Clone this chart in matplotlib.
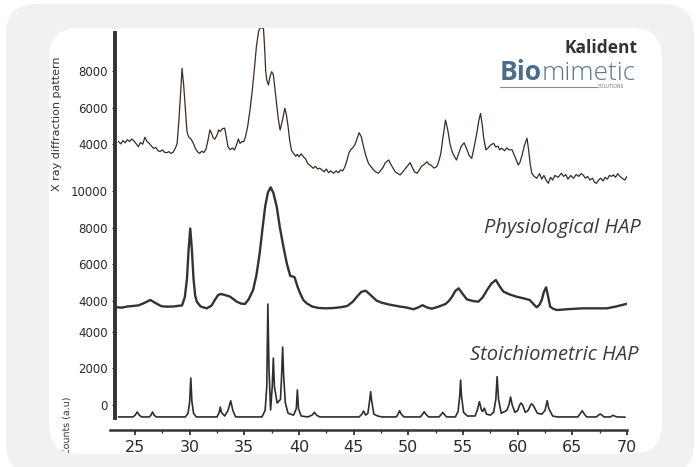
import numpy as np
import matplotlib.pyplot as plt
from matplotlib.patches import FancyBboxPatch, PathPatch
from matplotlib.textpath import TextPath
from matplotlib.font_manager import FontProperties
from matplotlib.transforms import Affine2D
from matplotlib.ticker import MultipleLocator

# --- data (2-theta in degrees, counts) ---
# top trace: Kalident sample (noisy)
kal_x = [23.5, 23.7, 23.9, 24.1, 24.3, 24.5, 24.7, 24.9, 25.1, 25.3, 25.5, 25.7, 25.9, 26.1,
         26.3, 26.5, 26.7, 26.9, 27.1, 27.3, 27.5, 27.7, 27.9, 28.1, 28.3, 28.5, 28.7, 28.85,
         29.0, 29.15, 29.3, 29.45, 29.6, 29.75, 29.9, 30.1, 30.3, 30.5, 30.7, 30.9, 31.1, 31.3,
         31.5, 31.7, 31.85, 32.0, 32.15, 32.3, 32.5, 32.65, 32.8, 33.0, 33.2, 33.35, 33.5, 33.7,
         33.9, 34.1, 34.3, 34.45, 34.6, 34.8, 34.95, 35.1, 35.3, 35.5, 35.7, 35.9, 36.1, 36.3,
         36.45, 36.6, 36.75, 36.85, 36.95, 37.05, 37.2, 37.35, 37.5, 37.65, 37.8, 37.95, 38.1,
         38.27, 38.4, 38.55, 38.7, 38.85, 39.0, 39.15, 39.3, 39.5, 39.7, 39.85, 40.0, 40.2, 40.4,
         40.6, 40.8, 41.0, 41.3, 41.5, 41.7, 41.9, 42.1, 42.3, 42.5, 42.7, 42.9, 43.15, 43.4,
         43.6, 43.8, 44.0, 44.2, 44.4, 44.55, 44.7, 44.9, 45.1, 45.3, 45.5, 45.7, 45.9, 46.1,
         46.35, 46.55, 46.75, 47.0, 47.26, 47.5, 47.7, 47.85, 48.0, 48.2, 48.4, 48.6, 48.8, 49.0,
         49.25, 49.5, 49.7, 49.9, 50.16, 50.35, 50.55, 50.8, 51.0, 51.2, 51.45, 51.7, 51.9, 52.1,
         52.35, 52.6, 52.8, 52.97, 53.15, 53.4, 53.6, 53.8, 54.0, 54.2, 54.4, 54.6, 54.85, 55.1,
         55.3, 55.55, 55.8, 56.0, 56.26, 56.45, 56.6, 56.75, 56.9, 57.1, 57.3, 57.5, 57.8, 58.0,
         58.2, 58.35, 58.55, 58.8, 59.0, 59.2, 59.5, 59.7, 59.9, 60.05, 60.2, 60.4, 60.6, 60.85,
         61.0, 61.15, 61.3, 61.5, 61.75, 62.0, 62.2, 62.4, 62.6, 62.8, 63.0, 63.2, 63.4, 63.7,
         64.0, 64.2, 64.4, 64.6, 64.85, 65.1, 65.35, 65.6, 65.8, 66.0, 66.2, 66.4, 66.6, 66.85,
         67.0, 67.2, 67.4, 67.6, 67.8, 68.0, 68.2, 68.4, 68.6, 68.76, 68.95, 69.15, 69.35, 69.55,
         69.8, 70.0]
kal_y = [4140, 4020, 4200, 4080, 4250, 4150, 4290, 4180, 4020, 3870, 4100, 4000, 4380, 4150,
         4050, 3900, 3780, 3820, 3650, 3600, 3700, 3560, 3540, 3600, 3500, 3580, 3800, 4050,
         5200, 6600, 8140, 7200, 5960, 4700, 4400, 4300, 4100, 3800, 3600, 3500, 3620, 3550,
         3750, 4300, 4780, 4600, 4350, 4280, 4500, 4780, 4700, 4850, 4880, 4400, 3870, 3700,
         3800, 3690, 4000, 4290, 4050, 4150, 4140, 4400, 4960, 5800, 6800, 8000, 9320, 10150,
         10350, 10350, 10300, 9300, 8000, 7500, 7230, 7700, 7955, 7800, 7000, 6230, 5400,
         4780, 5100, 5500, 5960, 5600, 4960, 4200, 3690, 3500, 3350, 3450, 3320, 3480, 3320,
         3200, 2950, 2850, 2690, 2800, 2650, 2700, 2600, 2500, 2650, 2450, 2550, 2420, 2550,
         2450, 2600, 2550, 2780, 3150, 3500, 3690, 3800, 3960, 4300, 4630, 4400, 3870, 3400,
         2960, 2800, 2650, 2500, 2420, 2600, 2750, 2950, 3050, 3140, 2900, 2700, 2500, 2420,
         2330, 2500, 2650, 2800, 3000, 2750, 2500, 2420, 2600, 2800, 2900, 3050, 2900, 2850,
         2700, 2780, 3100, 3500, 4300, 5320, 4800, 4050, 3600, 3350, 3140, 3500, 3900, 4080,
         3800, 3400, 3230, 3800, 4600, 5300, 5680, 5100, 4300, 3690, 3800, 3950, 4050, 3850,
         3900, 3700, 3780, 3650, 3800, 3700, 3690, 3400, 3100, 2870, 3000, 3400, 3900, 4330,
         3700, 2900, 2420, 2250, 2150, 2400, 2100, 2300, 2050, 1870, 2200, 2050, 2300, 2200,
         2420, 2250, 2350, 2100, 2300, 2150, 2350, 2250, 2400, 2320, 2150, 2250, 2050, 2150,
         1950, 1870, 2050, 2150, 2000, 2200, 2100, 2300, 2250, 2330, 2200, 2400, 2250, 2150,
         2050, 2250]

# middle trace: physiological HAP
phys_x = [23.3, 23.8, 24.3, 24.8, 25.3, 25.8, 26.4, 26.9, 27.4, 27.9, 28.5, 29.0, 29.3, 29.55,
          29.75, 29.9, 30.05, 30.2, 30.35, 30.5, 30.65, 31.0, 31.55, 32.0, 32.3, 32.6, 32.85,
          33.2, 33.7, 34.0, 34.3, 34.7, 35.06, 35.4, 35.8, 36.1, 36.4, 36.65, 36.9, 37.15, 37.4,
          37.65, 37.96, 38.25, 38.57, 38.9, 39.2, 39.45, 39.6, 39.85, 40.1, 40.4, 40.7, 41.2,
          41.8, 42.5, 43.2, 43.8, 44.4, 44.9, 45.3, 45.7, 46.1, 46.5, 47.1, 47.6, 48.3, 49.2,
          49.8, 50.46, 50.9, 51.3, 51.7, 52.15, 52.8, 53.4, 53.7, 54.0, 54.3, 54.6, 54.95, 55.35,
          55.9, 56.4, 56.8, 57.2, 57.6, 58.0, 58.35, 58.7, 59.3, 59.9, 60.5, 61.1, 61.5, 61.75,
          62.0, 62.2, 62.4, 62.6, 62.8, 62.97, 63.3, 63.6, 64.5, 65.3, 66.0, 67.0, 68.15, 69.0,
          69.9]
phys_y = [3657, 3640, 3700, 3728, 3760, 3880, 4054, 3880, 3720, 3690, 3700, 3740, 3760, 4200,
          5200, 6800, 7950, 6800, 5200, 4300, 3962, 3700, 3600, 3750, 4054, 4330, 4381,
          4330, 4236, 4100, 3962, 3860, 3837, 4100, 4600, 5400, 6600, 7900, 9140, 9900, 10197,
          9900, 9140, 8000, 6960, 6000, 5363, 5330, 5290, 4800, 4420, 4050, 3874, 3700,
          3620, 3600, 3620, 3660, 3728, 3950, 4236, 4500, 4560, 4350, 4017, 3900, 3800, 3700,
          3650, 3550, 3650, 3770, 3650, 3580, 3700, 3837, 4000, 4236, 4550, 4690, 4400, 4092,
          4000, 3962, 4200, 4600, 4950, 5145, 4800, 4510, 4350, 4236, 4150, 4054, 3800, 3657,
          3800, 4054, 4500, 4747, 4200, 3690, 3560, 3509, 3550, 3580, 3600, 3600, 3600, 3700,
          3837]

# bottom trace: stoichiometric HAP
stoi_x = [23.5, 24.8, 25.0, 25.2, 25.4, 25.6, 26.3, 26.45, 26.6, 26.75, 26.95, 29.6, 29.85,
          30.0, 30.1, 30.2, 30.35, 30.6, 32.5, 32.7, 32.8, 32.9, 33.2, 33.5, 33.75, 33.95, 34.2,
          36.6, 36.9, 37.05, 37.15, 37.25, 37.4, 37.55, 37.65, 37.75, 38.0, 38.3, 38.4, 38.5,
          38.6, 38.75, 39.0, 39.5, 39.75, 39.85, 39.95, 40.2, 40.8, 41.2, 41.4, 41.6, 41.9,
          45.5, 45.75, 45.9, 46.1, 46.3, 46.45, 46.55, 46.65, 46.85, 47.2, 47.6, 48.9, 49.05,
          49.2, 49.35, 49.6, 51.1, 51.3, 51.45, 51.6, 51.85, 52.8, 53.0, 53.15, 53.3, 53.5,
          54.3, 54.55, 54.7, 54.78, 54.86, 55.05, 55.4, 56.1, 56.3, 56.5, 56.7, 56.8, 56.95,
          57.15, 57.5, 57.8, 58.0, 58.12, 58.25, 58.5, 59.0, 59.2, 59.35, 59.5, 59.75, 60.0,
          60.2, 60.3, 60.45, 60.7, 60.95, 61.2, 61.3, 61.45, 61.8, 62.2, 62.5, 62.7, 62.85,
          63.2, 63.6, 65.5, 65.75, 65.9, 66.05, 66.3, 67.2, 67.4, 67.55, 67.7, 67.9, 68.5,
          68.7, 68.85, 69.1, 69.8]
stoi_y = [-650, -650, -560, -380, -560, -650, -650, -560, -380, -560, -650, -650, -450,
          200, 1470, 200, -450, -650, -650, -400, -110, -400, -600, -300, 230, -300, -650,
          -650, -300, 1000, 5500, 2000, -270, 1000, 2560, 1000, 110, 300, 1500, 3160,
          1500, 100, -450, -550, -200, 820, -200, -600, -650, -550, -400, -550, -650,
          -650, -500, -330, -550, -450, 200, 725, 200, -500, -600, -650, -650, -500,
          -310, -500, -650, -650, -500, -365, -500, -650, -650, -520, -400, -520, -650,
          -650, -350, 500, 1360, 500, -400, -600, -600, -300, 180, -300, -350, -170,
          -500, -550, -400, 300, 1545, 300, -450, -300, 0, 435, 0, -400, -300,
          20, 110, 0, -400, -300, 20, 60, -50, -450, -500, -300, 235, -200,
          -600, -650, -650, -450, -310, -450, -650, -650, -550, -490, -550, -650, -650,
          -560, -600, -650, -660]

x_ticks = [25, 30, 35, 40, 45, 50, 55, 60, 65, 70]
top_ticks = [4000, 6000, 8000]
mid_ticks = [4000, 6000, 8000, 10000]
bot_ticks = [0, 2000, 4000]

MID_OFF = 1668     # vertical shift of the middle trace
TOP_OFF = 10210    # vertical shift of the top trace

W, H = 698, 467
fig = plt.figure(figsize=(W / 100, H / 100), dpi=100)
fig.patch.set_facecolor('white')

# background panels, pixel coordinates (y down)
bg = fig.add_axes([0, 0, 1, 1])
bg.set_xlim(0, W)
bg.set_ylim(H, 0)
bg.axis('off')
bg.add_patch(FancyBboxPatch((6, 4), 688, 470, boxstyle='round,pad=0,rounding_size=30',
                            fc='#f1f1f1', ec='none'))
panel = FancyBboxPatch((49, 28), 613, 426, boxstyle='round,pad=0,rounding_size=30',
                       fc='white', ec='none')
bg.add_patch(panel)

# main plot (x axis line starts a little left of the y axis)
ax = fig.add_axes([110 / W, (H - 430) / H, 517 / W, 402 / H])
ax.set_zorder(2)
ax.patch.set_visible(False)
ax.set_xlim(22.71, 70)
ax.set_ylim(-1362, 20546)

ax.plot(stoi_x, stoi_y, color='#2e2e2e', lw=1.2)
ax.plot(phys_x, np.array(phys_y) + MID_OFF, color='#333333', lw=1.7)
ax.plot(kal_x, np.array(kal_y) + TOP_OFF, color='#3d2a20', lw=0.9)

for s in ['top', 'right']:
    ax.spines[s].set_visible(False)
ax.spines['left'].set_position(('data', 23.17))
ax.spines['left'].set_bounds(-708, 20272)
ax.spines['left'].set_linewidth(2.8)
ax.spines['left'].set_color('#333333')
ax.spines['bottom'].set_linewidth(1.8)
ax.spines['bottom'].set_color('#333333')

ypos = bot_ticks + [v + MID_OFF for v in mid_ticks] + [v + TOP_OFF for v in top_ticks]
ylab = [str(v) for v in bot_ticks + mid_ticks + top_ticks]
ax.set_yticks(ypos)
ax.set_yticklabels(ylab)
ax.tick_params(axis='y', length=2, width=0.8, pad=3, labelsize=8.5,
               colors='#333333', labelcolor='#2b2b2b')

ax.set_xticks(x_ticks)
ax.xaxis.set_minor_locator(MultipleLocator(2.5))
ax.tick_params(axis='x', which='major', length=3.5, width=1.3, pad=4, labelsize=11.5,
               colors='#333333', labelcolor='#2b2b2b')
ax.tick_params(axis='x', which='minor', length=2.5, width=1.0, colors='#333333')

# labels on the left
bg.text(57, 124, 'X ray diffraction pattern', rotation=90, ha='center', va='center',
        fontsize=8, color='#333333')
# 'Counts (a.u)' runs past the panel's rounded corner and is cut there
tp = TextPath((0, 0), 'Counts (a.u)', size=9.5, prop=FontProperties(family='DejaVu Sans'))
tr = Affine2D().scale(1, -1).rotate_deg(-90).translate(69, 456)
cp = PathPatch(tr.transform_path(tp), fc='#333333', ec='none')
bg.add_patch(cp)
cp.set_clip_path(panel)

# sample names
bg.text(641, 228, 'Physiological HAP', ha='right', va='center', fontsize=14.5,
        style='italic', family=['Open Sans', 'DejaVu Sans'], color='#3a3a3a')
bg.text(638, 355, 'Stoichiometric HAP', ha='right', va='center', fontsize=14.5,
        style='italic', family=['Open Sans', 'DejaVu Sans'], color='#3a3a3a')

# logo
bg.text(637, 53, 'Kalident', ha='right', va='baseline', fontsize=12.5, fontweight='bold',
        family=['Open Sans', 'DejaVu Sans'], color='#333333')
t_bio = bg.text(500, 80, 'Bio', ha='left', va='baseline', fontsize=19, fontweight='bold',
                family=['Open Sans', 'DejaVu Sans'], color='#4c6c8a')
fig.canvas.draw()
bb = t_bio.get_window_extent()
bio_end = bb.x1 * W / fig.bbox.width
bg.text(bio_end, 80, 'mimetic', ha='left', va='baseline', fontsize=19, fontweight='light',
        family=['Open Sans', 'DejaVu Sans'], color='#5a7896')
bg.plot([500, 597], [87, 87], color='#8a8a8a', lw=0.8)
bg.text(598, 87, 'SOLUTIONS', ha='left', va='center', fontsize=3.3, color='#777777')

fig.savefig('out.png', dpi=100)
